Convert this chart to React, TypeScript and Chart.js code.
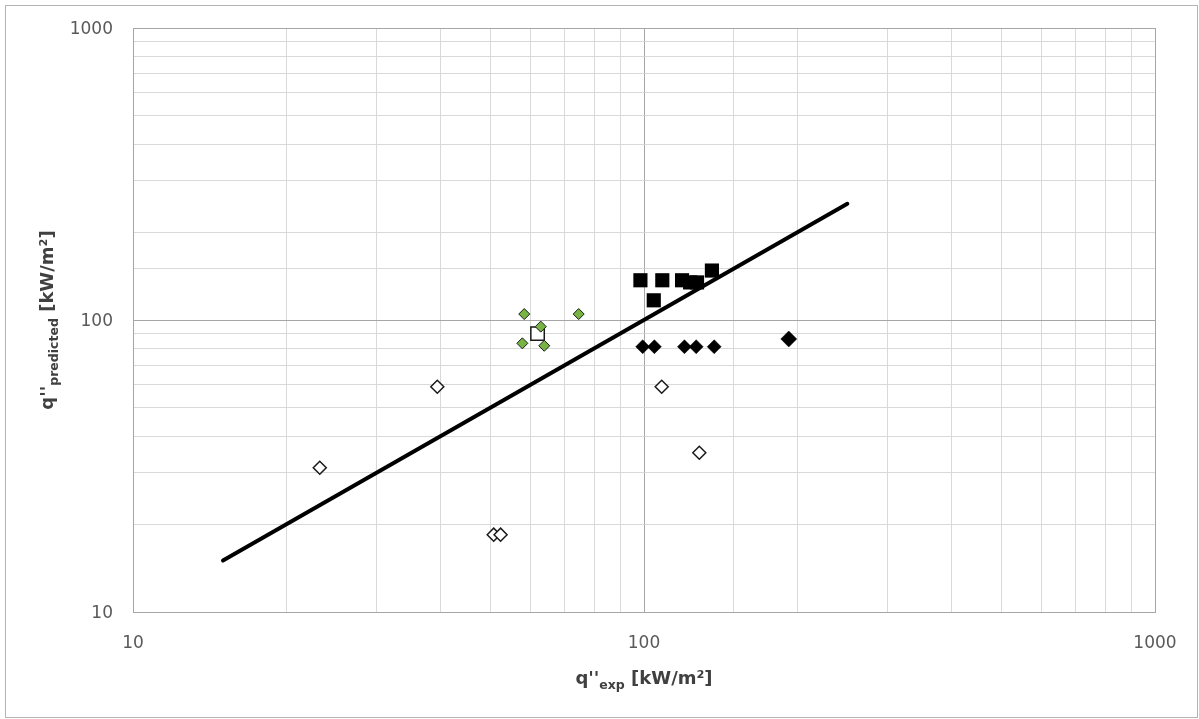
import React, { useEffect, useRef } from "react";
import { Chart, registerables } from "chart.js";

Chart.register(...registerables);

const openDiamondX = [23.2, 39.4, 50.8, 52.4, 108.3, 128.3];
const openDiamondY = [31.2, 59.1, 18.4, 18.4, 59.1, 35.1];

const greenDiamondX = [58.3, 62.8, 57.8, 63.8, 74.5];
const greenDiamondY = [104.8, 94.9, 83.2, 81.6, 104.8];

const openSquareX = [61.9];
const openSquareY = [89.8];

const filledSquareX = [98.4, 108.6, 104.5, 118.7, 123.1, 127.0, 135.8];
const filledSquareY = [136.8, 136.8, 116.8, 136.8, 134.5, 134.5, 147.7];

const filledDiamondX = [99.4, 104.8, 120.0, 126.5, 137.2, 192.0];
const filledDiamondY = [81.0, 81.0, 81.0, 81.0, 81.0, 86.1];

const lineX = [15, 250];
const lineY = [15, 250];

const axisMin = 10;
const axisMax = 1000;
const tickLabels = [10, 100, 1000];

const xTitle = [
  { t: "q''", sub: false },
  { t: "exp", sub: true },
  { t: " [kW/m²]", sub: false },
];
const yTitle = [
  { t: "q''", sub: false },
  { t: "predicted", sub: true },
  { t: " [kW/m²]", sub: false },
];

const pts = (xs: number[], ys: number[]) => xs.map((x, i) => ({ x, y: ys[i] }));

const isPow10 = (v: number) => Math.abs(Math.log10(v) - Math.round(Math.log10(v))) < 1e-6;

const FONT = "'DejaVu Sans', sans-serif";
const TITLE_FONT = "'DejaVu Sans', sans-serif";

function drawRich(
  ctx: CanvasRenderingContext2D,
  parts: { t: string; sub: boolean }[],
  cx: number,
  cy: number,
  rot: number
) {
  ctx.save();
  ctx.translate(cx, cy);
  ctx.rotate(rot);
  ctx.fillStyle = "#404040";
  ctx.textBaseline = "alphabetic";
  ctx.textAlign = "left";
  const main = `bold 18px ${TITLE_FONT}`;
  const small = `bold 12.5px ${TITLE_FONT}`;
  let total = 0;
  const widths = parts.map((p) => {
    ctx.font = p.sub ? small : main;
    const w = ctx.measureText(p.t).width;
    total += w;
    return w;
  });
  let x = -total / 2;
  parts.forEach((p, i) => {
    ctx.font = p.sub ? small : main;
    ctx.fillText(p.t, x, p.sub ? 5 : 0);
    x += widths[i];
  });
  ctx.restore();
}

const titlePlugin = {
  id: "richTitles",
  afterDraw(chart: any) {
    const ctx = chart.ctx as CanvasRenderingContext2D;
    const a = chart.chartArea;
    drawRich(ctx, xTitle, (a.left + a.right) / 2, 684, 0);
    drawRich(ctx, yTitle, 53, (a.top + a.bottom) / 2, -Math.PI / 2);
  },
};

export default function App() {
  const ref = useRef<HTMLCanvasElement | null>(null);
  useEffect(() => {
    document.body.style.margin = "0";
    const canvas = ref.current;
    if (!canvas) return;
    const gridColor = (c: any) =>
      c.tick && isPow10(c.tick.value) ? "#a6a6a6" : "#d9d9d9";
    const tickCb = (v: any) => (tickLabels.includes(Number(v)) ? String(v) : "");
    const chart = new Chart(canvas, {
      type: "scatter",
      data: {
        datasets: [
          {
            label: "line",
            data: pts(lineX, lineY),
            showLine: true,
            borderColor: "#000000",
            borderWidth: 4,
            borderCapStyle: "round",
            pointRadius: 0,
            order: 0,
          } as any,
          {
            label: "filled squares",
            data: pts(filledSquareX, filledSquareY),
            pointStyle: "rect",
            pointRadius: 10,
            backgroundColor: "#000000",
            borderColor: "#000000",
            borderWidth: 0,
            order: 1,
          },
          {
            label: "filled diamonds",
            data: pts(filledDiamondX, filledDiamondY),
            pointStyle: "rectRot",
            pointRadius: [7, 7, 7, 7, 7, 8],
            backgroundColor: "#000000",
            borderColor: "#000000",
            borderWidth: 0.5,
            order: 1,
          },
          {
            label: "open diamonds",
            data: pts(openDiamondX, openDiamondY),
            pointStyle: "rectRot",
            pointRadius: 6.5,
            backgroundColor: "#ffffff",
            borderColor: "#1a1a1a",
            borderWidth: 1.5,
            order: 1,
          },
          {
            label: "open square",
            data: pts(openSquareX, openSquareY),
            pointStyle: "rect",
            pointRadius: 9.5,
            backgroundColor: "#ffffff",
            borderColor: "#1a1a1a",
            borderWidth: 1.5,
            order: 2,
          },
          {
            label: "green diamonds",
            data: pts(greenDiamondX, greenDiamondY),
            pointStyle: "rectRot",
            pointRadius: 5.5,
            backgroundColor: "#78b444",
            borderColor: "#1a1a1a",
            borderWidth: 1,
            order: 1,
          },
        ],
      },
      options: {
        animation: false,
        responsive: false,
        devicePixelRatio: 1,
        layout: { padding: { top: 28, right: 44, left: 0, bottom: 0 } },
        plugins: {
          legend: { display: false },
          tooltip: { enabled: false },
        },
        scales: {
          x: {
            type: "logarithmic",
            min: axisMin,
            max: axisMax,
            grid: { color: gridColor, lineWidth: 1, drawTicks: false },
            border: { color: "#a6a6a6", width: 1 },
            ticks: {
              autoSkip: false,
              maxRotation: 0,
              minRotation: 0,
              padding: 21,
              color: "#595959",
              font: { family: FONT, size: 17 },
              callback: tickCb,
            },
            afterFit(s: any) {
              s.height = 107;
              s.paddingLeft = 0;
              s.paddingRight = 0;
            },
          },
          y: {
            type: "logarithmic",
            min: axisMin,
            max: axisMax,
            grid: { color: gridColor, lineWidth: 1, drawTicks: false },
            border: { color: "#a6a6a6", width: 1 },
            ticks: {
              autoSkip: false,
              padding: 20,
              labelOffset: 2,
              color: "#595959",
              font: { family: FONT, size: 17 },
              callback: tickCb,
            },
            afterFit(s: any) {
              s.width = 133;
              s.paddingTop = 0;
              s.paddingBottom = 0;
            },
          },
        },
      } as any,
      plugins: [titlePlugin],
    });
    return () => chart.destroy();
  }, []);

  return (
    <div style={{ position: "relative", width: 1199, height: 719, background: "#ffffff" }}>
      <div
        style={{
          position: "absolute",
          left: 5,
          top: 5,
          width: 1193,
          height: 713,
          border: "1px solid #b4b4b4",
          boxSizing: "border-box",
        }}
      />
      <canvas
        ref={ref}
        width={1199}
        height={719}
        style={{ position: "absolute", left: 0, top: 0, width: 1199, height: 719 }}
      />
    </div>
  );
}
